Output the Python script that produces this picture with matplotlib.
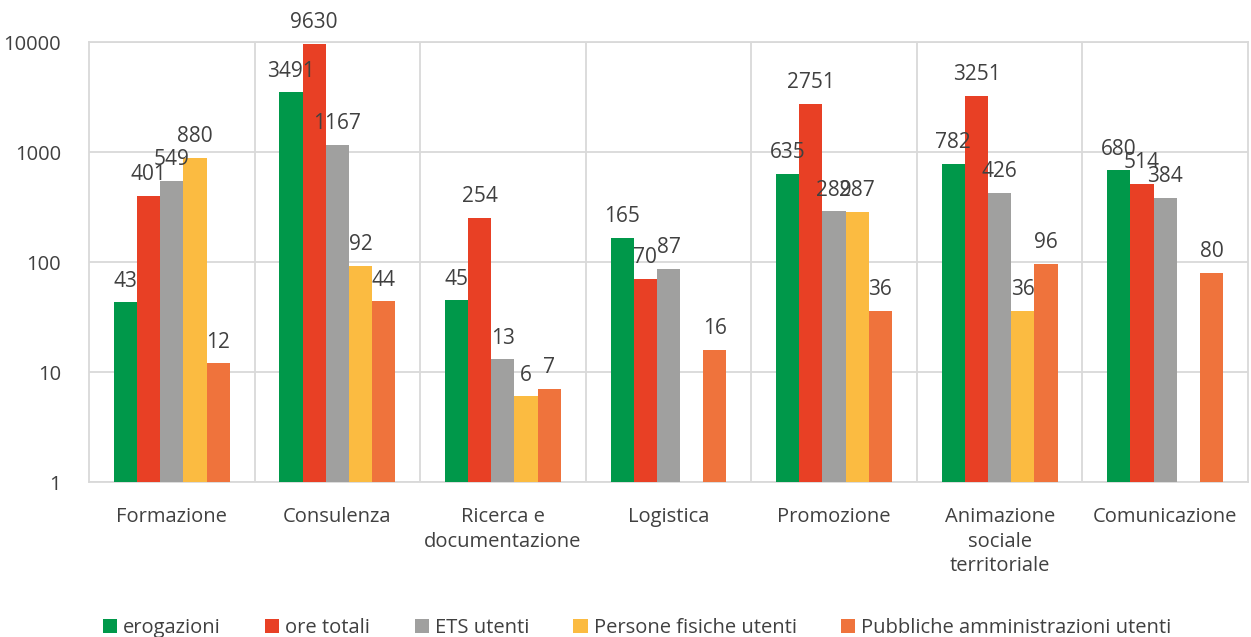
import matplotlib.pyplot as plt
import numpy as np

categories = ["Formazione", "Consulenza", "Ricerca e\ndocumentazione", "Logistica",
              "Promozione", "Animazione\nsociale\nterritoriale", "Comunicazione"]
series_names = ["erogazioni", "ore totali", "ETS utenti", "Persone fisiche utenti",
                "Pubbliche amministrazioni utenti"]
erogazioni = [43, 3491, 45, 165, 635, 782, 680]
ore_totali = [401, 9630, 254, 70, 2751, 3251, 514]
ets_utenti = [549, 1167, 13, 87, 289, 426, 384]
persone_fisiche = [880, 92, 6, np.nan, 287, 36, np.nan]
pubbliche_amm = [12, 44, 7, 16, 36, 96, 80]
colors = ["#00984A", "#E84025", "#A0A09F", "#FBBB41", "#EF733C"]

series = [erogazioni, ore_totali, ets_utenti, persone_fisiche, pubbliche_amm]

plt.rcParams['font.family'] = ['Open Sans', 'DejaVu Sans']
txt = "#404040"

fig = plt.figure(figsize=(12.51, 6.37), dpi=100)
ax = fig.add_axes([0.0711, 0.2433, 0.9265, 0.6907])

x = np.arange(len(categories))
w = 0.14
for i, (vals, c, name) in enumerate(zip(series, colors, series_names)):
    pos = x + (i - 2) * w
    ax.bar(pos, vals, w, color=c, label=name, zorder=3)
    for p, v in zip(pos, vals):
        if not np.isnan(v):
            ax.text(p, v * 1.25, f"{int(v)}", ha="center", va="bottom",
                    fontsize=15, color=txt, zorder=4)

ax.set_yscale("log")
ax.set_ylim(1, 10000)
ax.set_xlim(-0.5, len(categories) - 0.5)
ax.set_yticks([1, 10, 100, 1000, 10000])
ax.set_yticklabels(["1", "10", "100", "1000", "10000"])
ax.yaxis.set_minor_locator(plt.NullLocator())
ax.set_xticks(x)
ax.set_xticklabels(categories, fontsize=14.5, color=txt, linespacing=1.3)
ax.tick_params(axis="y", labelsize=14.5, colors=txt, length=0, pad=20)
ax.tick_params(axis="x", length=0, pad=18)
for b in np.arange(0.5, len(categories) - 0.5, 1):
    ax.axvline(b, color="#D9D9D9", lw=1.3, zorder=1)
ax.grid(axis="y", color="#D9D9D9", lw=1.3, zorder=1)
for s in ax.spines.values():
    s.set_color("#D9D9D9")
    s.set_linewidth(1.3)

ax.legend(loc="lower center", bbox_to_anchor=(0.473, -0.395), ncol=5, frameon=False,
          fontsize=14.5, handlelength=0.7, handleheight=0.7, columnspacing=2.2,
          handletextpad=0.3, labelcolor=txt)

fig.savefig("out.png", dpi=100)
